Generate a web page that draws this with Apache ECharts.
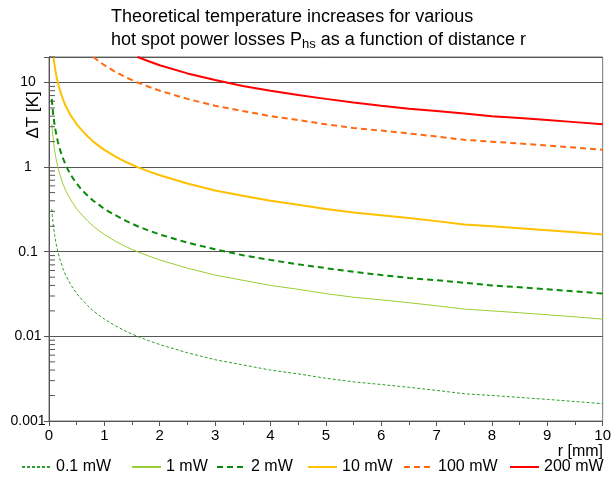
<!DOCTYPE html>
<html><head><meta charset="utf-8">
<script src="https://cdn.jsdelivr.net/npm/echarts@6/dist/echarts.min.js"></script>
<style>html,body{margin:0;padding:0;background:#fff}#c{width:614px;height:478px}</style>
</head><body><div id="c"></div>
<script>
// r [mm] sample points and read-off temperature rises ΔT [K]
const rAll = [0.05,0.06,0.07,0.08,0.09,0.1,0.12,0.14,0.16,0.18,0.2,0.25,0.3,0.35,0.4,0.45,0.5,0.6,0.7,0.8,0.9,1,1.2,1.4,1.6,1.8,2,2.5,3,3.5,4,4.5,5,5.5,6,6.5,7,7.5,8,8.5,9,9.5,10];
const t01 = [0.32,0.267,0.229,0.2,0.178,0.16,0.133,0.114,0.1,0.089,0.08,0.064,0.053,0.046,0.04,0.036,0.032,0.027,0.023,0.02,0.0178,0.016,0.0133,0.0114,0.01,0.0089,0.008,0.0064,0.0053,0.0046,0.004,0.0036,0.0032,0.0029,0.0027,0.0025,0.0023,0.0021,0.002,0.0019,0.0018,0.0017,0.0016];
const t1  = [3.2,2.67,2.29,2,1.78,1.6,1.33,1.14,1,0.89,0.8,0.64,0.53,0.46,0.4,0.36,0.32,0.27,0.23,0.2,0.178,0.16,0.133,0.114,0.1,0.089,0.08,0.064,0.053,0.046,0.04,0.036,0.032,0.029,0.027,0.025,0.023,0.021,0.02,0.019,0.018,0.017,0.016];
const t2  = [6.4,5.33,4.57,4,3.56,3.2,2.67,2.29,2,1.78,1.6,1.28,1.07,0.91,0.8,0.71,0.64,0.53,0.46,0.4,0.36,0.32,0.27,0.23,0.2,0.178,0.16,0.128,0.107,0.091,0.08,0.071,0.064,0.058,0.053,0.049,0.046,0.043,0.04,0.038,0.036,0.034,0.032];
const r10 = [0.08,0.09,0.1,0.12,0.14,0.16,0.18,0.2,0.25,0.3,0.35,0.4,0.45,0.5,0.6,0.7,0.8,0.9,1,1.2,1.4,1.6,1.8,2,2.5,3,3.5,4,4.5,5,5.5,6,6.5,7,7.5,8,8.5,9,9.5,10];
const t10 = [20,17.8,16,13.3,11.4,10,8.9,8,6.4,5.3,4.6,4,3.6,3.2,2.7,2.3,2,1.78,1.6,1.33,1.14,1,0.89,0.8,0.64,0.53,0.46,0.4,0.36,0.32,0.29,0.27,0.25,0.23,0.21,0.2,0.19,0.18,0.17,0.16];
const r100 = [0.8,0.9,1,1.2,1.4,1.6,1.8,2,2.5,3,3.5,4,4.5,5,5.5,6,6.5,7,7.5,8,8.5,9,9.5,10];
const t100 = [20,17.8,16,13.3,11.4,10,8.9,8,6.4,5.3,4.6,4,3.6,3.2,2.9,2.7,2.5,2.3,2.1,2,1.9,1.8,1.7,1.6];
const r200 = [1.6,1.8,2,2.5,3,3.5,4,4.5,5,5.5,6,6.5,7,7.5,8,8.5,9,9.5,10];
const t200 = [20,17.8,16,12.8,10.7,9.1,8,7.1,6.4,5.8,5.3,4.9,4.6,4.3,4,3.8,3.6,3.4,3.2];
const seriesNames = ['0.1 mW','1 mW','2 mW','10 mW','100 mW','200 mW'];
const legendLeft = [21,131,216,307,403,509];
const yTickLabels = ['0.001','0.01','0.1','1','10'];
const xTickLabels = ['0','1','2','3','4','5','6','7','8','9','10'];
const decades = [0.001,0.01,0.1,1,10];
const minorVals = [];
decades.forEach(d=>{for(let k=2;k<=9;k++){const v=+(d*k).toPrecision(3); if(v<=20) minorVals.push(v);}});

const zip=(r,t)=>r.map((x,i)=>[x,t[i]]);
const FONT='Liberation Sans, Arial, sans-serif';
function ln(name,data,color,width,type){
  return {name,type:'line',data,showSymbol:false,symbol:'none',smooth:false,
    lineStyle:{color,width,type},itemStyle:{color},emphasis:{disabled:true},z:3};
}
const chart=echarts.init(document.getElementById('c'),null,{renderer:'canvas'});
chart.setOption({
  animation:false,
  textStyle:{fontFamily:FONT},
  title:{left:111,top:6,padding:[0,0,0,0],
    text:'Theoretical temperature increases for various\nhot spot power losses P{sub|hs} as a function of distance r',
    textStyle:{fontFamily:FONT,fontSize:18,fontWeight:'normal',color:'#000',lineHeight:23,
      rich:{sub:{fontFamily:FONT,fontSize:13,color:'#000',padding:[8,0,0,0],lineHeight:23}}}},
  grid:{left:49,right:5,top:57,bottom:57,show:true,borderColor:'#777',borderWidth:1,backgroundColor:'transparent'},
  legend:seriesNames.map((n,i)=>({left:legendLeft[i],top:459,itemWidth:29,itemHeight:14,itemGap:5,padding:0,
    itemStyle:{color:'rgba(0,0,0,0)',borderColor:'rgba(0,0,0,0)',borderWidth:0,opacity:0},
    textStyle:{fontFamily:FONT,fontSize:16,color:'#000'},data:[n]})),
  xAxis:{type:'value',min:0,max:10,interval:1,
    axisLine:{lineStyle:{color:'#555',width:1}},
    axisTick:{show:true,length:5,lineStyle:{color:'#555'}},
    minorTick:{show:true,splitNumber:2,length:4,lineStyle:{color:'#555'}},
    splitLine:{show:false},
    axisLabel:{fontFamily:FONT,fontSize:15,color:'#000',margin:7,formatter:v=>xTickLabels[Math.round(v)]??''}},
  yAxis:{type:'log',logBase:10,min:0.001,max:20,
    axisLine:{show:true,lineStyle:{color:'#555',width:1}},
    axisTick:{show:true,length:5,lineStyle:{color:'#555'}},
    splitLine:{show:true,lineStyle:{color:'#555',width:1}},
    axisLabel:{fontFamily:FONT,fontSize:14,color:'#000',margin:21,align:'center',
      formatter:v=>{const e=Math.log10(v);if(Math.abs(e-Math.round(e))>1e-6)return '';return yTickLabels[Math.round(e)+3]??'';}}},
  graphic:[
    {type:'text',x:33,y:115,rotation:Math.PI/2,
      style:{text:'ΔT [K]',font:'17px '+FONT,fill:'#000',align:'center',verticalAlign:'middle'}},
    {type:'text',x:603,y:452,
      style:{text:'r [mm]',font:'16px '+FONT,fill:'#000',align:'right',verticalAlign:'middle'}}
  ],
  series:[
    ln('0.1 mW',zip(rAll,t01),'#2e9e2e',1,[3,2]),
    ln('1 mW',zip(rAll,t1),'#9acd32',1,'solid'),
    ln('2 mW',zip(rAll,t2),'#0a8a0a',2,[6,4]),
    ln('10 mW',zip(r10,t10),'#ffc000',2,'solid'),
    ln('100 mW',zip(r100,t100),'#ff6a10',2,[6,4]),
    ln('200 mW',zip(r200,t200),'#ff0000',2,'solid'),
    {type:'custom',name:'minor',data:minorVals.map(v=>[0,v]),silent:true,z:4,
      renderItem:(p,api)=>{const pt=api.coord([0,api.value(1)]);
        return {type:'line',shape:{x1:pt[0],y1:pt[1],x2:pt[0]+6,y2:pt[1]},style:{stroke:'#555',lineWidth:1}};}}
  ]
});
</script></body></html>
